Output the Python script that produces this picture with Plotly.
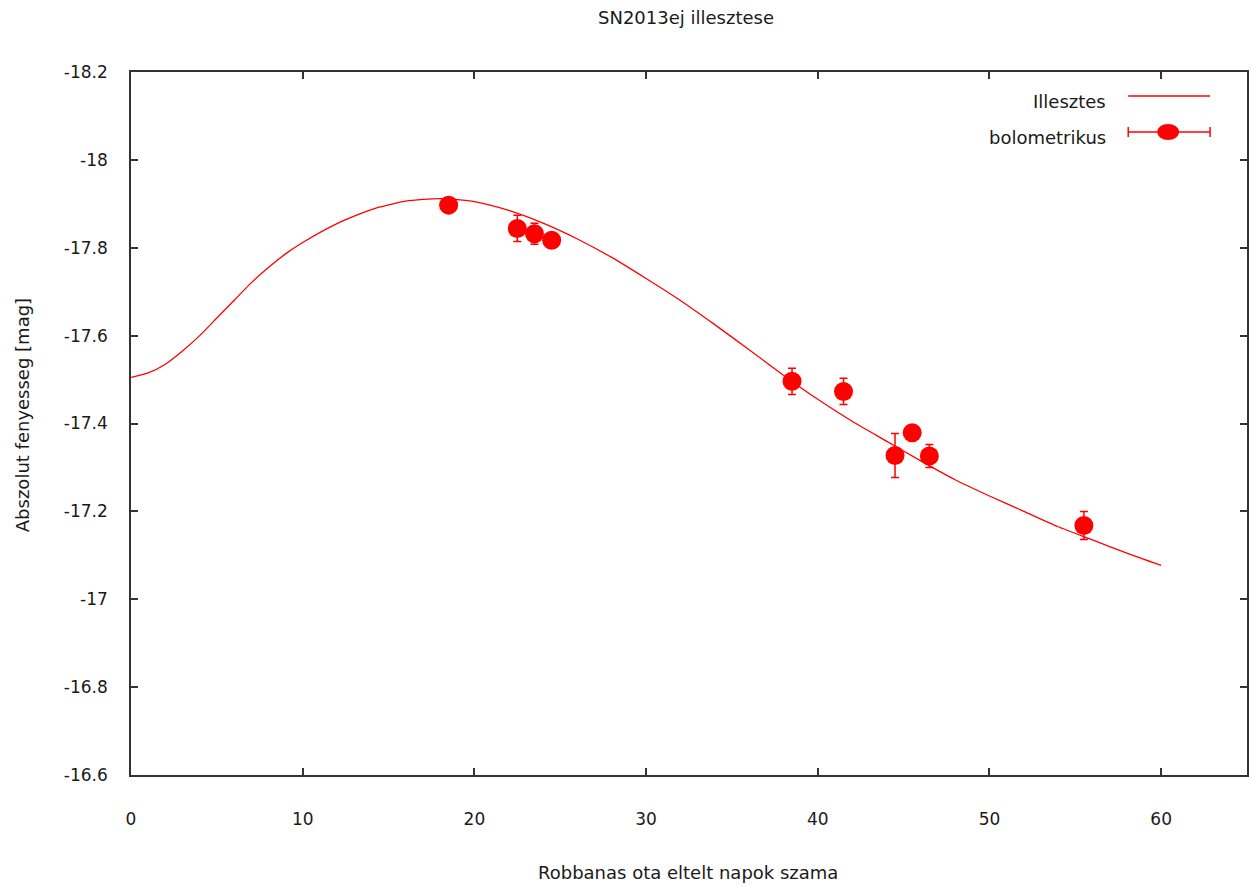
import plotly.graph_objects as go

# ---- data ----
days = [18.5, 22.5, 23.5, 24.5, 38.5, 41.5, 44.5, 45.5, 46.5, 55.5]
mag = [-17.897, -17.844, -17.832, -17.817, -17.496, -17.473, -17.327, -17.379, -17.326, -17.168]
mag_err = [0.012, 0.030, 0.024, 0.012, 0.030, 0.030, 0.050, 0.012, 0.026, 0.032]

fit_days = [0, 1, 2, 3, 4, 5, 6, 7, 8, 9, 10, 12, 14, 16, 18, 20, 22, 24, 26, 28, 30,
            32, 34, 36, 38, 40, 42, 44, 46, 48, 50, 52, 54, 56, 58, 60]
fit_mag = [-17.505, -17.515, -17.535, -17.565, -17.600, -17.640, -17.680, -17.720,
           -17.755, -17.786, -17.812, -17.855, -17.887, -17.906, -17.912, -17.905,
           -17.885, -17.856, -17.820, -17.778, -17.730, -17.680, -17.625, -17.568,
           -17.510, -17.455, -17.405, -17.360, -17.315, -17.272, -17.235, -17.200,
           -17.165, -17.135, -17.105, -17.077]

x_ticks = [0, 10, 20, 30, 40, 50, 60]
x_ticklabels = ["0", "10", "20", "30", "40", "50", "60"]
y_ticks = [-18.2, -18.0, -17.8, -17.6, -17.4, -17.2, -17.0, -16.8, -16.6]
y_ticklabels = ["-18.2", "-18", "-17.8", "-17.6", "-17.4", "-17.2", "-17", "-16.8", "-16.6"]

title_text = "SN2013ej illesztese"
x_title = "Robbanas ota eltelt napok szama"
y_title = "Abszolut fenyesseg [mag]"
legend_names = ["Illesztes", "bolometrikus"]

RED = "#ff0000"
FONT = "DejaVu Sans"
TXT = "#1a1a1a"
W, H = 1251, 886
L, R, T, B = 131, 2, 72, 111
PW = W - L - R
PH = H - T - B


def px(xp):
    return (xp - L) / PW


def py(yp):
    return (H - B - yp) / PH


fig = go.Figure()
fig.add_trace(go.Scatter(x=fit_days, y=fit_mag, mode="lines", name=legend_names[0],
                         line=dict(color=RED, width=1.3, shape="spline", smoothing=0.6),
                         showlegend=False))
fig.add_trace(go.Scatter(x=days, y=mag, mode="markers", name=legend_names[1],
                         marker=dict(color=RED, size=19, symbol="circle", line=dict(width=0)),
                         error_y=dict(type="data", array=mag_err, color=RED, thickness=1.5, width=4),
                         showlegend=False))

axis_common = dict(showline=True, linecolor="#333333", linewidth=1.5, mirror="ticks",
                   ticks="inside", ticklen=7, tickwidth=1.5, tickcolor="#333333",
                   showgrid=False, zeroline=False,
                   tickfont=dict(family=FONT, size=17, color=TXT))

fig.update_xaxes(range=[0, 65], tickvals=x_ticks, ticktext=x_ticklabels,
                 ticklabelstandoff=28, **axis_common)
fig.update_yaxes(range=[-16.6, -18.2], tickvals=y_ticks, ticktext=y_ticklabels,
                 ticklabelstandoff=18, **axis_common)

TF = dict(family=FONT, size=18, color=TXT)
annotations = [
    dict(text=title_text, x=px(687), y=py(17), xref="paper", yref="paper",
         showarrow=False, xanchor="center", yanchor="middle", font=TF),
    dict(text=x_title, x=px(689), y=py(872), xref="paper", yref="paper",
         showarrow=False, xanchor="center", yanchor="middle", font=TF),
    dict(text=y_title, x=px(22), y=py(415), xref="paper", yref="paper",
         showarrow=False, xanchor="center", yanchor="middle", textangle=-90, font=TF),
    dict(text=legend_names[0], x=px(1110), y=py(101), xref="paper", yref="paper",
         showarrow=False, xanchor="right", yanchor="middle", font=TF),
    dict(text=legend_names[1], x=px(1110), y=py(137), xref="paper", yref="paper",
         showarrow=False, xanchor="right", yanchor="middle", font=TF),
]

shapes = [
    # legend sample: fit line
    dict(type="line", xref="paper", yref="paper", x0=px(1130), x1=px(1212), y0=py(96), y1=py(96),
         line=dict(color=RED, width=1.3)),
    # legend sample: error bar with marker
    dict(type="line", xref="paper", yref="paper", x0=px(1130), x1=px(1212), y0=py(132), y1=py(132),
         line=dict(color=RED, width=1.5)),
    dict(type="line", xref="paper", yref="paper", x0=px(1130), x1=px(1130), y0=py(127), y1=py(137),
         line=dict(color=RED, width=1.5)),
    dict(type="line", xref="paper", yref="paper", x0=px(1212), x1=px(1212), y0=py(127), y1=py(137),
         line=dict(color=RED, width=1.5)),
    dict(type="circle", xref="paper", yref="paper", x0=px(1159), x1=px(1181), y0=py(124), y1=py(140),
         fillcolor=RED, line=dict(color=RED, width=0)),
]

fig.update_layout(width=W, height=H, margin=dict(l=L, r=R, t=T, b=B),
                  paper_bgcolor="white", plot_bgcolor="white",
                  showlegend=False, annotations=annotations, shapes=shapes)

fig.write_html("out.html", config={"displayModeBar": False})

# remove the default page margin so the figure sits at the window's top-left corner
with open("out.html", "r", encoding="utf-8") as f:
    html = f.read()
html = html.replace("<body>", '<body style="margin:0;padding:0;overflow:hidden">', 1)
with open("out.html", "w", encoding="utf-8") as f:
    f.write(html)
